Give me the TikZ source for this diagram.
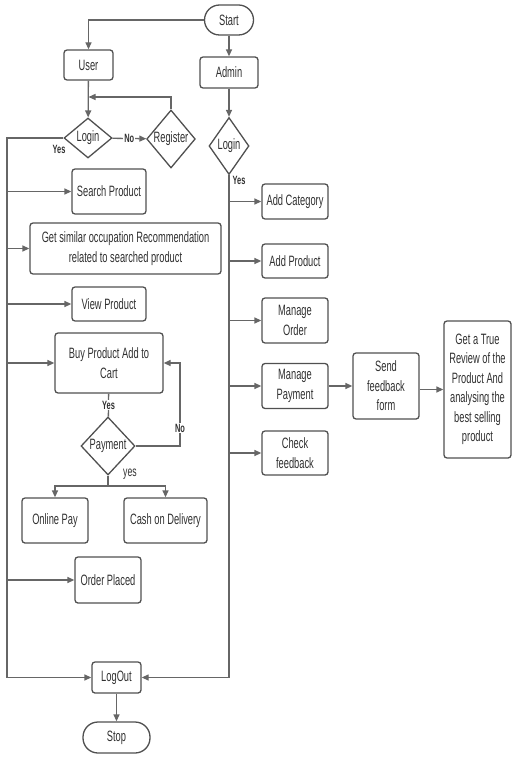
\documentclass[tikz,border=0pt]{standalone}
\usepackage{fontspec}
\setmainfont[FakeStretch=0.62]{Liberation Sans}
\usetikzlibrary{shapes.geometric,arrows.meta}
\definecolor{edge}{HTML}{505050}
\definecolor{wire}{HTML}{666666}
\definecolor{ink}{HTML}{303030}
\begin{document}
\begin{tikzpicture}[x=1pt,y=-1pt,
  box/.style={draw=edge,line width=1.3pt,rounded corners=3pt,align=center,inner sep=1pt,text=ink,font=\fontsize{15}{19.5}\selectfont},
  pill/.style={box,rounded corners=15pt},
  dia/.style={draw=edge,line width=1.3pt,diamond,inner sep=0pt,align=center,text=ink,font=\fontsize{15}{19.5}\selectfont},
  arr/.style={wire,line width=1.3pt,-{Triangle[length=7pt,width=6pt]}},
  line/.style={wire,line width=1.3pt},
  tag/.style={font=\fontsize{12}{14}\bfseries\selectfont,inner sep=1pt,text=ink}]
\useasboundingbox (0,0) rectangle (513,759);
\node[pill,minimum width=49pt,minimum height=30pt] (start) at (229,20) {Start};
\node[box,minimum width=49pt,minimum height=30pt] (user) at (88.5,65) {User};
\node[box,minimum width=58pt,minimum height=31pt] (admin) at (229,72.5) {Admin};
\node[dia,minimum width=48pt,minimum height=40pt] (ulogin) at (88,138) {Login};
\node[dia,minimum width=48pt,minimum height=58pt] (register) at (171,139) {Register};
\node[dia,minimum width=40pt,minimum height=57pt] (alogin) at (229,146) {Login};
\node[box,minimum width=74pt,minimum height=45pt] (search) at (109,191.5) {Search Product};
\node[box,minimum width=191pt,minimum height=51pt] (similar) at (125.5,248.5) {Get similar occupation Recommendation\\related to searched product};
\node[box,minimum width=74pt,minimum height=34pt] (view) at (109,304) {View Product};
\node[box,minimum width=108pt,minimum height=60pt] (buy) at (109,363) {Buy Product Add to\\Cart};
\node[dia,minimum width=54pt,minimum height=58pt] (pay) at (108,446) {Payment};
\node[box,minimum width=66pt,minimum height=45pt] (online) at (55,520.5) {Online Pay};
\node[box,minimum width=83pt,minimum height=45pt] (cash) at (165.5,520.5) {Cash on Delivery};
\node[box,minimum width=66pt,minimum height=46pt] (placed) at (108,580) {Order Placed};
\node[box,minimum width=49pt,minimum height=31pt] (logout) at (116.5,677.5) {LogOut};
\node[pill,minimum width=67pt,minimum height=31pt] (stop) at (116.5,737.5) {Stop};
\node[box,minimum width=66pt,minimum height=35pt] (addcat) at (295,201.5) {Add Category};
\node[box,minimum width=66pt,minimum height=34pt] (addprod) at (295,261) {Add Product};
\node[box,minimum width=66pt,minimum height=45pt] (order) at (295,320.5) {Manage\\Order};
\node[box,minimum width=66pt,minimum height=45pt] (mpay) at (295,386) {Manage\\Payment};
\node[box,minimum width=66pt,minimum height=44pt] (check) at (295,453) {Check\\feedback};
\node[box,minimum width=66pt,minimum height=66pt] (send) at (386,386) {Send\\feedback\\form};
\node[box,minimum width=67pt,minimum height=137pt] (review) at (477.5,389.5) {Get a True\\Review of the\\Product And\\analysing the\\best selling\\product};
\coordinate (back) at (88.5,97);
\coordinate (ltop) at (7,138);
\coordinate (lbot) at (7,677.5);
\coordinate (rbot) at (229,677.5);
\coordinate (noB) at (180,363);
\coordinate (split) at (108,486);
\draw[arr] (start) -| (user);
\draw[arr] (start) -- (admin);
\draw[arr] (admin) -- (alogin);
\draw[arr] (user) -- (ulogin);
\draw[arr] (ulogin) -- node[tag,fill=white] (noReg) {No} (register);
\draw[arr] (register) |- (back);
\draw[arr] (ulogin) -- (ltop) -- (lbot) -- (logout);
\node[tag] (yesU) at (59,149) {Yes};
\foreach \n in {search,similar,view,buy,placed} \draw[arr] (ltop |- \n.west) -- (\n.west);
\draw[arr] (alogin) -- (rbot) -- (logout);
\node[tag] (yesA) at (239,180) {Yes};
\foreach \n in {addcat,addprod,order,mpay,check} \draw[arr] (alogin |- \n.west) -- (\n.west);
\draw[arr] (mpay) -- (send);
\draw[arr] (send.east |- review.west) -- (review.west);
\draw[line] (buy) -- node[tag,fill=white] (yesPay) {Yes} (pay);
\draw[arr] (pay.east) -| (noB) -- (buy.east);
\node[tag,fill=white] (noPay) at (180,428) {No};
\draw[line] (pay) -- (split);
\draw[arr] (split) -| (online);
\draw[arr] (split) -| (cash);
\node[font=\fontsize{14}{16}\selectfont,text=ink] (yesSplit) at (130,474) {yes};
\draw[arr] (logout) -- (stop);
\end{tikzpicture}
\end{document}
